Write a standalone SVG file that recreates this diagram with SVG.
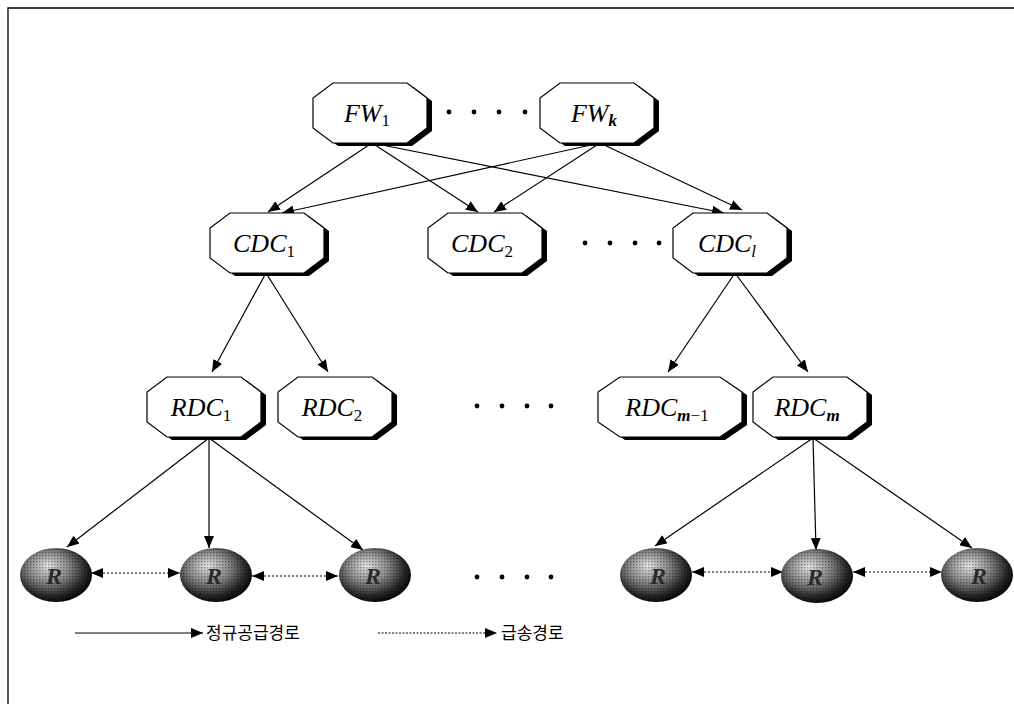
<svg xmlns="http://www.w3.org/2000/svg" width="1014" height="704" viewBox="0 0 1014 704">
  <style>
    .oct { fill: #fff; stroke: #000; stroke-width: 1.2; }
    .sh { fill: #000; }
    .lbl { font-family: "Liberation Serif", "Times New Roman", serif; font-style: italic; font-size: 26px; fill: #000; text-anchor: middle; }
    .sub { font-size: 17px; }
    .up { font-style: normal; }
    .rl { font-family: "Liberation Serif", serif; font-style: italic; font-weight: bold; font-size: 24px; fill: #2a2a2a; text-anchor: middle; }
    .edge { stroke: #000; stroke-width: 1.2; fill: none; marker-end: url(#ah); }
    .dot2 { stroke: #000; stroke-width: 1.2; fill: none; stroke-dasharray: 2 2; marker-start: url(#ahs); marker-end: url(#ah); }
    .leg { font-family: "Noto Sans CJK KR", "Noto Sans", sans-serif; font-size: 17px; fill: #000; }
    .dt { fill: #000; }
  </style>
  <defs>
    <marker id="ah" viewBox="0 0 12 10" refX="12" refY="5" markerWidth="12" markerHeight="10" markerUnits="userSpaceOnUse" orient="auto">
      <path d="M0,0 L12,5 L0,10 Z" fill="#000"/>
    </marker>
    <marker id="ahs" viewBox="0 0 12 10" refX="0" refY="5" markerWidth="12" markerHeight="10" markerUnits="userSpaceOnUse" orient="auto">
      <path d="M12,0 L0,5 L12,10 Z" fill="#000"/>
    </marker>
    <polygon id="oct" points="-37,-30 37,-30 57,-15 57,15 37,30 -37,30 -57,15 -57,-15"/>
    <polygon id="octW" points="-50,-30 50,-30 72,-15 72,15 50,30 -50,30 -72,15 -72,-15"/>
    <radialGradient id="ball" cx="42%" cy="40%" r="62%" fx="38%" fy="32%">
      <stop offset="0" stop-color="#e6e6e6"/>
      <stop offset="0.45" stop-color="#8a8a8a"/>
      <stop offset="0.8" stop-color="#2a2a2a"/>
      <stop offset="1" stop-color="#050505"/>
    </radialGradient>
    <pattern id="grain" width="3" height="3" patternUnits="userSpaceOnUse">
      <rect x="0" y="0" width="1.4" height="1.4" fill="#000" fill-opacity="0.35"/>
    </pattern>
  </defs>

  <rect width="1014" height="704" fill="#fff"/>
  <!-- frame -->
  <path d="M8,704 L8,8 L1014,8" stroke="#000" stroke-width="1.3" fill="none"/>

  <!-- connectors -->
  <g id="connectors">
    <path class="edge" d="M372,143 L268,212"/>
    <path class="edge" d="M372,143 L478,212"/>
    <path class="edge" d="M372,143 L724,213"/>
    <path class="edge" d="M600,143 L282,213"/>
    <path class="edge" d="M600,143 L494,212"/>
    <path class="edge" d="M600,143 L742,210"/>
    <path class="edge" d="M266,273 L212,372"/>
    <path class="edge" d="M266,273 L328,372"/>
    <path class="edge" d="M735,273 L668,372"/>
    <path class="edge" d="M735,273 L808,372"/>
    <path class="edge" d="M209,438 L67,547"/>
    <path class="edge" d="M209,438 L209,548"/>
    <path class="edge" d="M209,438 L363,550"/>
    <path class="edge" d="M813,438 L655,546"/>
    <path class="edge" d="M813,438 L816,550"/>
    <path class="edge" d="M813,438 L972,548"/>
    <path class="dot2" d="M91,573 L180,573"/>
    <path class="dot2" d="M252,576 L338,576"/>
    <path class="dot2" d="M692,572 L783,572"/>
    <path class="dot2" d="M853,572 L942,572"/>
  </g>

  <!-- plant nodes -->
  <g id="fw1" transform="translate(370,113)">
    <use href="#oct" class="sh" x="5" y="3"/><use href="#oct" class="oct"/>
    <text class="lbl" x="-3" y="9">FW<tspan class="sub up" dy="4">1</tspan></text>
  </g>
  <g id="fwk" transform="translate(597,113)">
    <use href="#oct" class="sh" x="5" y="3"/><use href="#oct" class="oct"/>
    <text class="lbl" x="-3" y="9">FW<tspan class="sub" dy="4" font-weight="bold">k</tspan></text>
  </g>

  <!-- central distribution centres -->
  <g id="cdc1" transform="translate(267,243)">
    <use href="#oct" class="sh" x="5" y="3"/><use href="#oct" class="oct"/>
    <text class="lbl" x="-3" y="9">CDC<tspan class="sub up" dy="5">1</tspan></text>
  </g>
  <g id="cdc2" transform="translate(485,243)">
    <use href="#oct" class="sh" x="5" y="3"/><use href="#oct" class="oct"/>
    <text class="lbl" x="-3" y="9">CDC<tspan class="sub up" dy="5">2</tspan></text>
  </g>
  <g id="cdcl" transform="translate(730,243)">
    <use href="#oct" class="sh" x="5" y="3"/><use href="#oct" class="oct"/>
    <text class="lbl" x="-3" y="9">CDC<tspan class="sub" dy="5">l</tspan></text>
  </g>

  <!-- regional distribution centres -->
  <g id="rdc1" transform="translate(204,407)">
    <use href="#oct" class="sh" x="5" y="3"/><use href="#oct" class="oct"/>
    <text class="lbl" x="-3" y="9">RDC<tspan class="sub up" dy="5">1</tspan></text>
  </g>
  <g id="rdc2" transform="translate(335,407)">
    <use href="#oct" class="sh" x="5" y="3"/><use href="#oct" class="oct"/>
    <text class="lbl" x="-3" y="9">RDC<tspan class="sub up" dy="5">2</tspan></text>
  </g>
  <g id="rdcm1" transform="translate(670,407)">
    <use href="#octW" class="sh" x="5" y="3"/><use href="#octW" class="oct"/>
    <text class="lbl" x="-3" y="9">RDC<tspan class="sub" dy="5" font-weight="bold">m</tspan><tspan class="sub up">−1</tspan></text>
  </g>
  <g id="rdcm" transform="translate(810,407)">
    <use href="#oct" class="sh" x="5" y="3"/><use href="#oct" class="oct"/>
    <text class="lbl" x="-3" y="9">RDC<tspan class="sub" dy="5" font-weight="bold">m</tspan></text>
  </g>

  <!-- retailers -->
  <g id="r1"><ellipse cx="56" cy="575" rx="36" ry="27" fill="url(#ball)"/><ellipse cx="56" cy="575" rx="36" ry="27" fill="url(#grain)"/><text class="rl" x="54" y="584">R</text></g>
  <g id="r2"><ellipse cx="216" cy="575" rx="36" ry="27" fill="url(#ball)"/><ellipse cx="216" cy="575" rx="36" ry="27" fill="url(#grain)"/><text class="rl" x="214" y="584">R</text></g>
  <g id="r3"><ellipse cx="375" cy="575" rx="36" ry="27" fill="url(#ball)"/><ellipse cx="375" cy="575" rx="36" ry="27" fill="url(#grain)"/><text class="rl" x="373" y="584">R</text></g>
  <g id="r4"><ellipse cx="656" cy="575" rx="36" ry="27" fill="url(#ball)"/><ellipse cx="656" cy="575" rx="36" ry="27" fill="url(#grain)"/><text class="rl" x="658" y="584">R</text></g>
  <g id="r5"><ellipse cx="817" cy="576" rx="36" ry="27" fill="url(#ball)"/><ellipse cx="817" cy="576" rx="36" ry="27" fill="url(#grain)"/><text class="rl" x="815" y="585">R</text></g>
  <g id="r6"><ellipse cx="977" cy="575" rx="36" ry="27" fill="url(#ball)"/><ellipse cx="977" cy="575" rx="36" ry="27" fill="url(#grain)"/><text class="rl" x="979" y="584">R</text></g>

  <!-- ellipsis dots -->
  <g id="ellipses">
    <circle class="dt" cx="449" cy="112" r="2.4"/><circle class="dt" cx="474" cy="112" r="2.4"/><circle class="dt" cx="499" cy="112" r="2.4"/><circle class="dt" cx="525" cy="112" r="2.4"/>
    <circle class="dt" cx="585" cy="243" r="2.4"/><circle class="dt" cx="610" cy="243" r="2.4"/><circle class="dt" cx="635" cy="243" r="2.4"/><circle class="dt" cx="659" cy="243" r="2.4"/>
    <circle class="dt" cx="477" cy="406" r="2.4"/><circle class="dt" cx="502" cy="406" r="2.4"/><circle class="dt" cx="527" cy="406" r="2.4"/><circle class="dt" cx="551" cy="406" r="2.4"/>
    <circle class="dt" cx="477" cy="577" r="2.4"/><circle class="dt" cx="502" cy="577" r="2.4"/><circle class="dt" cx="527" cy="577" r="2.4"/><circle class="dt" cx="551" cy="577" r="2.4"/>
  </g>

  <!-- legend -->
  <g id="legend">
    <path class="edge" d="M75,633 L203,633"/>
    <text class="leg" x="206" y="639">정규공급경로</text>
    <path d="M378,633 L497,633" stroke="#000" stroke-width="1.1" stroke-dasharray="2 1.5" fill="none" marker-end="url(#ah)"/>
    <text class="leg" x="501" y="639">급송경로</text>
  </g>
</svg>
